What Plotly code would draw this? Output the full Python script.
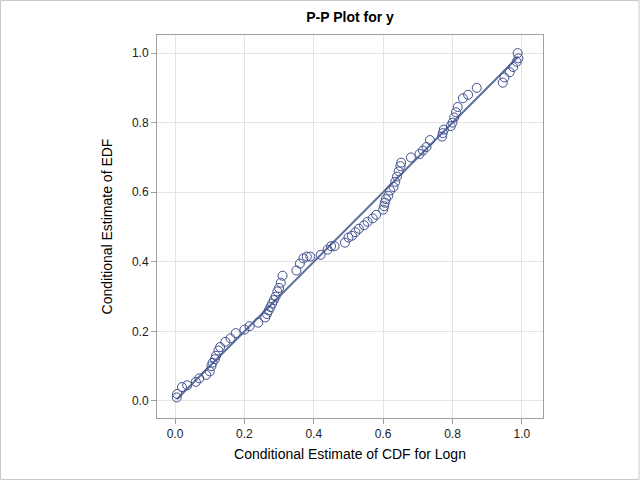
import plotly.graph_objects as go

cdf_logn = [0.005, 0.006, 0.02, 0.035, 0.06, 0.07, 0.09, 0.10, 0.105, 0.108, 0.115, 0.118, 0.125, 0.13,
            0.145, 0.16, 0.175, 0.20, 0.215, 0.24, 0.26, 0.265, 0.27, 0.275, 0.28, 0.285, 0.29, 0.295,
            0.30, 0.305, 0.31, 0.35, 0.36, 0.37, 0.38, 0.39, 0.42, 0.44, 0.45, 0.46, 0.49, 0.50, 0.51,
            0.52, 0.53, 0.545, 0.555, 0.57, 0.58, 0.60, 0.603, 0.605, 0.608, 0.615, 0.62, 0.63, 0.635,
            0.64, 0.645, 0.65, 0.652, 0.68, 0.705, 0.715, 0.725, 0.735, 0.77, 0.772, 0.775, 0.795,
            0.80, 0.805, 0.81, 0.815, 0.83, 0.845, 0.87, 0.945, 0.95, 0.965, 0.975, 0.985, 0.99, 0.988]
edf = [0.01, 0.02, 0.04, 0.045, 0.055, 0.065, 0.075, 0.085, 0.10, 0.11, 0.12, 0.13, 0.145, 0.155,
       0.17, 0.18, 0.195, 0.205, 0.215, 0.225, 0.24, 0.25, 0.26, 0.27, 0.28, 0.29, 0.30, 0.315,
       0.325, 0.34, 0.36, 0.375, 0.395, 0.41, 0.415, 0.415, 0.42, 0.435, 0.445, 0.445, 0.455, 0.47,
       0.475, 0.485, 0.495, 0.505, 0.515, 0.525, 0.535, 0.55, 0.56, 0.57, 0.58, 0.59, 0.605, 0.615,
       0.63, 0.645, 0.66, 0.675, 0.685, 0.70, 0.71, 0.72, 0.73, 0.75, 0.76, 0.77, 0.78, 0.79,
       0.80, 0.815, 0.83, 0.845, 0.87, 0.88, 0.90, 0.915, 0.93, 0.945, 0.96, 0.975, 0.985, 1.0]

line_x = [min(cdf_logn), max(cdf_logn)]
line_y = [min(cdf_logn), max(cdf_logn)]

fig = go.Figure()
fig.add_trace(go.Scatter(x=line_x, y=line_y, mode="lines",
                         line=dict(color="#5d7199", width=2), showlegend=False))
fig.add_trace(go.Scatter(x=cdf_logn, y=edf, mode="markers",
                         marker=dict(symbol="circle-open", size=9, color="#3f4f8f",
                                     line=dict(width=1, color="#3f4f8f")),
                         showlegend=False))

axis_common = dict(showgrid=True, gridcolor="#e4e4e4", gridwidth=1, zeroline=False,
                   showline=True, linecolor="#a0a0a0", linewidth=1, mirror=True,
                   ticks="outside", tickcolor="#a0a0a0", ticklen=5,
                   tickfont=dict(family="Liberation Sans, Arial", size=12, color="#222222"),
                   tickformat=".1f", dtick=0.2)

fig.update_layout(
    width=640, height=480,
    margin=dict(l=157, r=97, t=35, b=62),
    paper_bgcolor="white", plot_bgcolor="white",
    title=dict(text="<b>P-P Plot for y</b>", x=0.547, xanchor="center", y=0.965, yanchor="middle",
               font=dict(family="Liberation Sans, Arial", size=14, color="#000000")),
    xaxis=dict(range=[-0.052, 1.061],
               title=dict(text="Conditional Estimate of CDF for Logn",
                          font=dict(family="Liberation Sans, Arial", size=14, color="#000000"),
                          standoff=8),
               **axis_common),
    yaxis=dict(range=[-0.049, 1.052],
               title=dict(text="Conditional Estimate of EDF",
                          font=dict(family="Liberation Sans, Arial", size=14, color="#000000"),
                          standoff=16),
               **axis_common),
)

fig.add_shape(type="rect", xref="paper", yref="paper",
              x0=-156.5/386, x1=1 + 96/386, y0=-61.5/383, y1=1 + 34.5/383,
              line=dict(color="#c8c8c8", width=1), layer="below")

fig.write_html("out.html", config={"displayModeBar": False},
               post_script="document.body.style.margin='0';document.body.style.padding='0';")
